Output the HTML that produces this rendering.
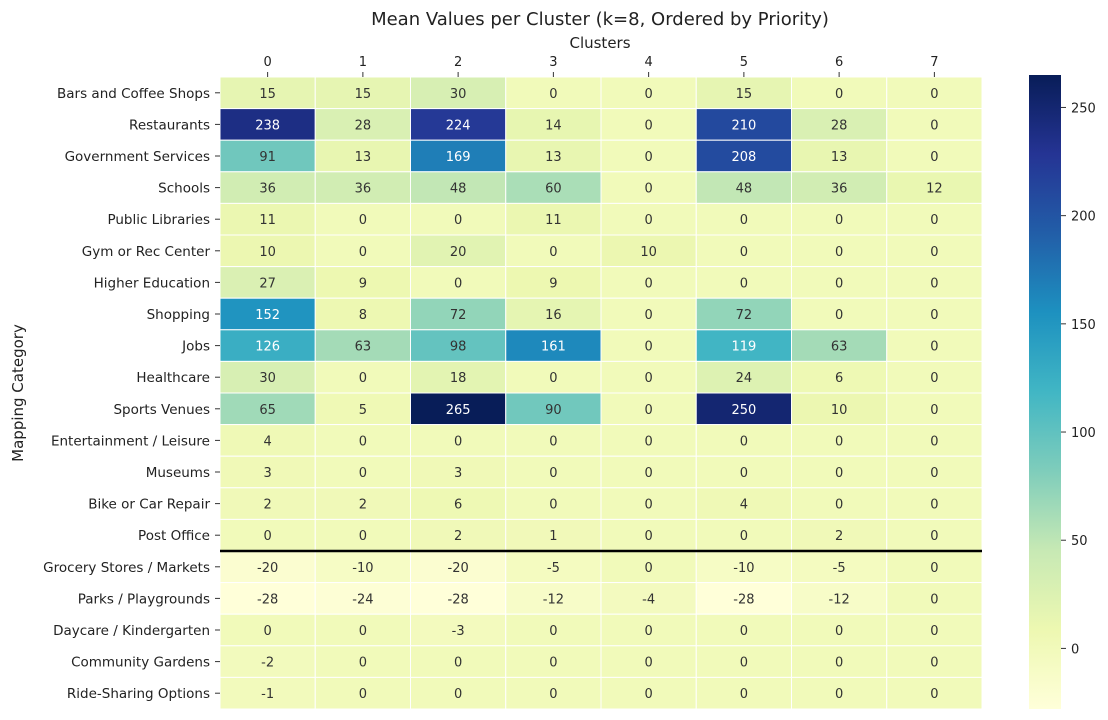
<!DOCTYPE html>
<html><head><meta charset="utf-8"><style>
body{margin:0;background:#fff;font-family:"Liberation Sans","DejaVu Sans",sans-serif;}
svg{display:block}
</style></head><body>
<svg id="chart" width="1108" height="720" font-family="DejaVu Sans, Liberation Sans, sans-serif">
<defs><linearGradient id="cbg" x1="0" y1="1" x2="0" y2="0">
<stop offset="0" stop-color="#ffffd9"/><stop offset="0.125" stop-color="#edf8b1"/><stop offset="0.25" stop-color="#c7e9b4"/><stop offset="0.375" stop-color="#7fcdbb"/><stop offset="0.5" stop-color="#41b6c4"/><stop offset="0.625" stop-color="#1d91c0"/><stop offset="0.75" stop-color="#225ea8"/><stop offset="0.875" stop-color="#253494"/><stop offset="1" stop-color="#081d58"/>
</linearGradient></defs>
<text x="600" y="25" text-anchor="middle" font-size="18" fill="#222">Mean Values per Cluster (k=8, Ordered by Priority)</text>
<text x="600" y="48" text-anchor="middle" font-size="15" fill="#222">Clusters</text>
<text transform="translate(23,393) rotate(-90)" text-anchor="middle" font-size="15" fill="#222">Mapping Category</text>
<g id="cells"></g><g id="labels"></g><g id="cbar"></g>
</svg>
<script>
const categories=["Bars and Coffee Shops","Restaurants","Government Services","Schools","Public Libraries","Gym or Rec Center","Higher Education","Shopping","Jobs","Healthcare","Sports Venues","Entertainment / Leisure","Museums","Bike or Car Repair","Post Office","Grocery Stores / Markets","Parks / Playgrounds","Daycare / Kindergarten","Community Gardens","Ride-Sharing Options"];
const clusters=["0","1","2","3","4","5","6","7"];
const values=[
[15,15,30,0,0,15,0,0],
[238,28,224,14,0,210,28,0],
[91,13,169,13,0,208,13,0],
[36,36,48,60,0,48,36,12],
[11,0,0,11,0,0,0,0],
[10,0,20,0,10,0,0,0],
[27,9,0,9,0,0,0,0],
[152,8,72,16,0,72,0,0],
[126,63,98,161,0,119,63,0],
[30,0,18,0,0,24,6,0],
[65,5,265,90,0,250,10,0],
[4,0,0,0,0,0,0,0],
[3,0,3,0,0,0,0,0],
[2,2,6,0,0,4,0,0],
[0,0,2,1,0,0,2,0],
[-20,-10,-20,-5,0,-10,-5,0],
[-28,-24,-28,-12,-4,-28,-12,0],
[0,0,-3,0,0,0,0,0],
[-2,0,0,0,0,0,0,0],
[-1,0,0,0,0,0,0,0]];
const cbTicks=[0,50,100,150,200,250];
const vmin=-28,vmax=265;
const L=220,R=982,T=77,B=709;
const cw=(R-L)/clusters.length,rh=(B-T)/categories.length;
const stops=["#ffffd9","#edf8b1","#c7e9b4","#7fcdbb","#41b6c4","#1d91c0","#225ea8","#253494","#081d58"].map(h=>[1,3,5].map(i=>parseInt(h.substr(i,2),16)));
function color(v){let t=Math.max(0,Math.min(1,(v-vmin)/(vmax-vmin)))*8;let i=Math.min(7,Math.floor(t)),f=t-i;const c=stops[i].map((a,k)=>Math.round(a+(stops[i+1][k]-a)*f));return `rgb(${c})`;}
function lum(v){let t=(v-vmin)/(vmax-vmin);return t>0.5;}
const NS="http://www.w3.org/2000/svg";
function mk(tag,attrs,parent){const e=document.createElementNS(NS,tag);for(const k in attrs)e.setAttribute(k,attrs[k]);parent.appendChild(e);return e;}
const cells=document.getElementById('cells'),labels=document.getElementById('labels'),cbar=document.getElementById('cbar');
values.forEach((row,r)=>row.forEach((v,c)=>{
 const rect=mk('rect',{x:L+c*cw,y:T+r*rh,width:cw,height:rh,fill:color(v),stroke:'#fff','stroke-width':1},cells);
 
 
 const t=mk('text',{x:L+(c+0.5)*cw,y:T+(r+0.5)*rh+5,'text-anchor':'middle','font-size':13,fill:lum(v)?'#fff':'#333'},cells);
 t.textContent=v;
 
 
}));
categories.forEach((n,r)=>{
 const t=mk('text',{x:L-10,y:T+(r+0.5)*rh+5,'text-anchor':'end','font-size':13.5,fill:'#222'},labels);
 t.textContent=n;
 
 
 mk('line',{x1:L-5,x2:L,y1:T+(r+0.5)*rh,y2:T+(r+0.5)*rh,stroke:'#333'},labels);
});
clusters.forEach((n,c)=>{
 const t=mk('text',{x:L+(c+0.5)*cw,y:66,'text-anchor':'middle','font-size':13,fill:'#222'},labels);
 t.textContent=n;
 
 
 mk('line',{x1:L+(c+0.5)*cw,x2:L+(c+0.5)*cw,y1:72,y2:T,stroke:'#333'},labels);
});
const sep=mk('line',{x1:L,x2:R,y1:T+15*rh,y2:T+15*rh,stroke:'#000','stroke-width':2.5},labels);


const CX=1029,CW=32,CT=75,CB=709;
const cb=mk('rect',{x:CX,y:CT,width:CW,height:CB-CT,fill:'url(#cbg)'},cbar);


cbTicks.forEach(v=>{
 const y=CB-(v-vmin)/(vmax-vmin)*(CB-CT);
 mk('line',{x1:CX+CW,x2:CX+CW+5,y1:y,y2:y,stroke:'#333'},cbar);
 const t=mk('text',{x:CX+CW+10,y:y+5,'font-size':13,fill:'#222'},cbar);
 t.textContent=v;
 
 
});
</script>
</body></html>
